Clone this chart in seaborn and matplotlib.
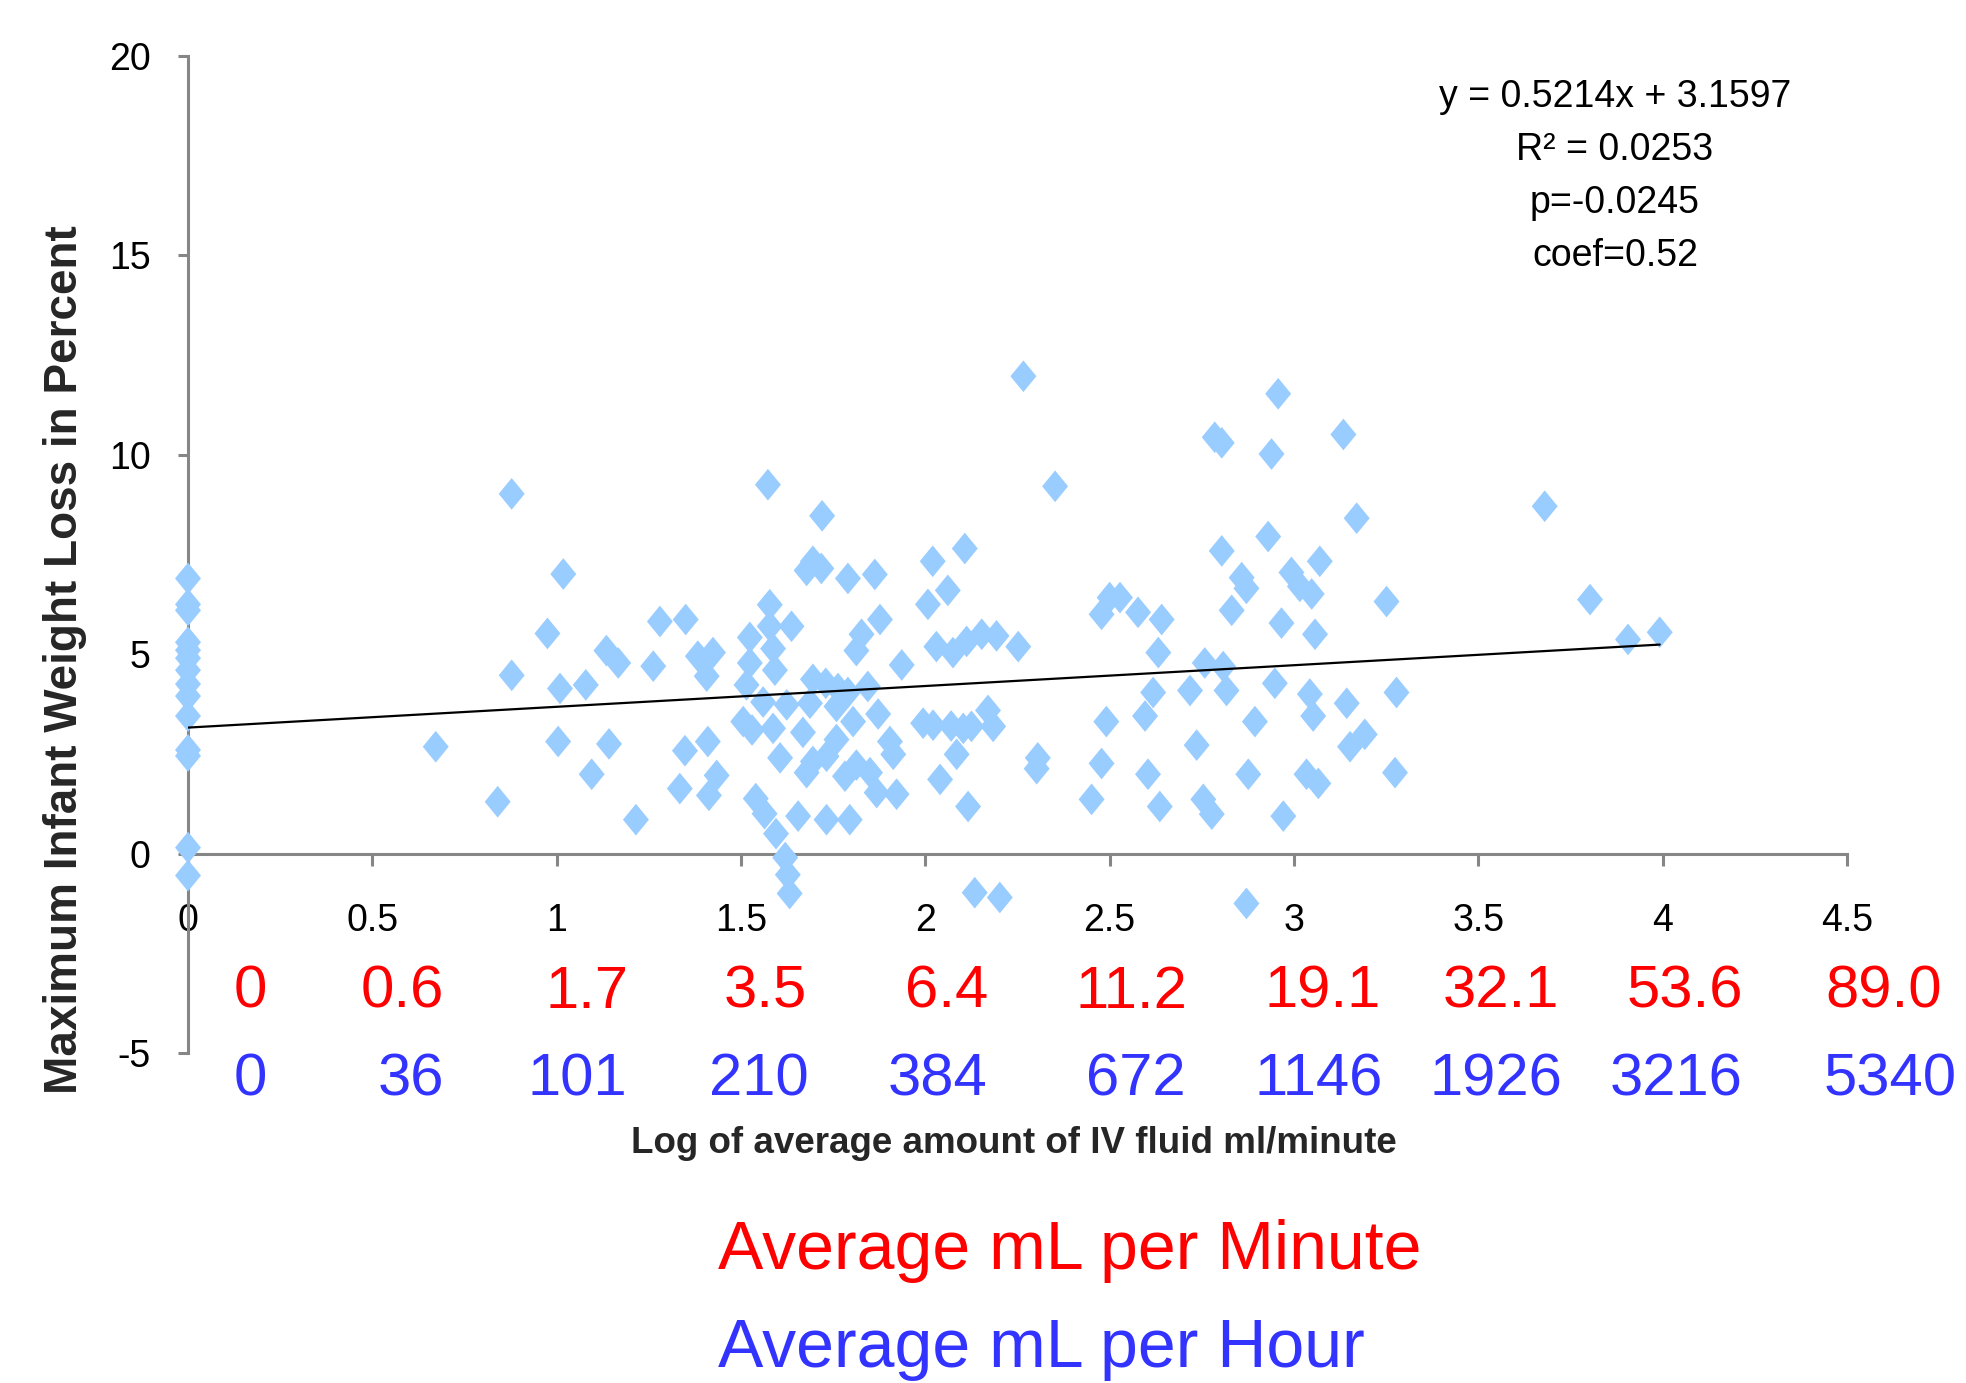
import matplotlib
matplotlib.use("Agg")
import matplotlib.pyplot as plt
import seaborn as sns
import numpy as np
import pandas as pd

# ---------------- data ----------------
log_rate = [
    0, 0, 0, 0, 0, 0, 0, 0, 0, 0, 0, 0, 0, 0,
    0.672, 0.84, 0.878, 0.878, 0.975, 1.018, 1.009, 1.004, 1.079, 1.095,
    1.135, 1.142, 1.167, 1.215, 1.262, 1.28, 1.334, 1.348, 1.35, 1.383,
    1.407, 1.41, 1.413, 1.424, 1.434, 1.506, 1.515, 1.524, 1.524, 1.53,
    1.54, 1.56, 1.573, 1.578, 1.578, 1.564, 1.587, 1.587, 1.595, 1.592,
    1.606, 1.624, 1.62, 1.632, 1.627, 1.637, 1.655, 1.668, 1.678, 1.678,
    1.687, 1.695, 1.695, 1.695, 1.718, 1.72, 1.73, 1.732, 1.732, 1.759,
    1.759, 1.763, 1.782, 1.79, 1.79, 1.795, 1.804, 1.813, 1.813, 1.827,
    1.844, 1.85, 1.863, 1.868, 1.872, 1.877, 1.904, 1.913, 1.922, 1.936,
    1.994, 2.007, 2.02, 2.021, 2.03, 2.04, 2.061, 2.07, 2.075, 2.085,
    2.103, 2.107, 2.112, 2.116, 2.125, 2.134, 2.153, 2.17, 2.184, 2.193,
    2.202, 2.252, 2.266, 2.302, 2.305, 2.352, 2.451, 2.478, 2.478, 2.491,
    2.5, 2.528, 2.577, 2.596, 2.604, 2.618, 2.632, 2.636, 2.641, 2.718,
    2.736, 2.754, 2.758, 2.777, 2.785, 2.804, 2.804, 2.808, 2.817, 2.831,
    2.858, 2.871, 2.871, 2.876, 2.894, 2.93, 2.939, 2.948, 2.957, 2.966,
    2.971, 2.993, 3.016, 3.034, 3.043, 3.048, 3.052, 3.057, 3.066, 3.07,
    3.134, 3.143, 3.152, 3.17, 3.192, 3.251, 3.274, 3.278,
    3.68, 3.803, 3.906, 3.992,
]
weight_loss_pct = [
    6.9, 6.25, 6.1, 5.3, 5.1, 4.9, 4.6, 4.25, 3.95, 3.45, 2.6, 2.45, 0.15, -0.55,
    2.68, 1.3, 9.02, 4.47, 5.52, 7.01, 4.14, 2.81, 4.23, 1.99,
    5.09, 2.75, 4.78, 0.85, 4.70, 5.82, 1.63, 2.58, 5.87, 4.95,
    4.45, 2.81, 1.46, 5.04, 1.96, 3.31, 4.23, 5.42, 4.78, 3.1,
    1.38, 3.8, 9.25, 6.24, 5.7, 1.0, 5.14, 3.14, 0.5, 4.6,
    2.4, 3.73, -0.1, -1.0, -0.53, 5.7, 0.94, 3.04, 7.1, 2.03,
    3.77, 7.33, 4.37, 2.31, 7.15, 8.47, 4.27, 2.44, 0.85, 3.69,
    2.86, 4.14, 1.94, 6.9, 4.04, 0.85, 3.31, 5.09, 2.22, 5.5,
    4.19, 2.03, 7.0, 1.53, 3.5, 5.87, 2.81, 2.49, 1.49, 4.73,
    3.27, 6.25, 7.33, 3.22, 5.19, 1.86, 6.6, 3.2, 5.04, 2.49,
    3.14, 7.65, 5.32, 1.18, 3.19, -0.98, 5.5, 3.59, 3.19, 5.46,
    -1.1, 5.19, 11.97, 2.13, 2.4, 9.21, 1.36, 6.0, 2.26, 3.31,
    6.42, 6.42, 6.05, 3.45, 1.99, 4.04, 5.04, 1.18, 5.87, 4.09,
    2.72, 1.36, 4.78, 0.99, 10.44, 10.3, 7.59, 4.69, 4.09, 6.1,
    6.92, 6.65, -1.25, 1.99, 3.31, 7.95, 10.02, 4.27, 11.53, 5.78,
    0.94, 7.05, 6.7, 1.99, 4.0, 6.51, 3.45, 5.5, 1.76, 7.33,
    10.51, 3.77, 2.68, 8.41, 2.99, 6.32, 2.03, 4.04,
    8.71, 6.37, 5.37, 5.55,
]

trend_slope = 0.5214
trend_intercept = 3.1597
equation_lines = ["y = 0.5214x + 3.1597", "R\u00b2 = 0.0253", "p=-0.0245", "coef=0.52"]

x_ticks = [0, 0.5, 1, 1.5, 2, 2.5, 3, 3.5, 4, 4.5]
x_tick_labels = ["0", "0.5", "1", "1.5", "2", "2.5", "3", "3.5", "4", "4.5"]
y_ticks = [-5, 0, 5, 10, 15, 20]
y_tick_labels = ["-5", "0", "5", "10", "15", "20"]

ml_per_minute = ["0", "0.6", "1.7", "3.5", "6.4", "11.2", "19.1", "32.1", "53.6", "89.0"]
ml_per_hour = ["0", "36", "101", "210", "384", "672", "1146", "1926", "3216", "5340"]

x_label = "Log of average amount of IV fluid ml/minute"
y_label = "Maximum Infant Weight Loss in Percent"
legend_minute = "Average mL per Minute"
legend_hour = "Average mL per Hour"

# ---------------- layout (pixels in the 1966x1383 canvas) ----------------
W, H = 1966, 1383
ax_left, ax_right, ax_top, ax_bottom = 188, 1847, 56, 1053
minute_centers = [250, 402, 587, 765, 947, 1131, 1323, 1501, 1685, 1884]
hour_centers = [250, 411, 577, 759, 938, 1136, 1319, 1496, 1676, 1890]

sns.set_theme(style="white")
FONT = ["Liberation Sans Narrow", "Liberation Sans", "DejaVu Sans"]
plt.rcParams["font.family"] = FONT
plt.rcParams["axes.unicode_minus"] = False

fig = plt.figure(figsize=(W / 100, H / 100), dpi=100)
fig.patch.set_facecolor("white")
ax = fig.add_axes([ax_left / W, 1 - ax_bottom / H,
                   (ax_right - ax_left) / W, (ax_bottom - ax_top) / H])

df = pd.DataFrame({"x": log_rate, "y": weight_loss_pct})
diamond = [(0, 1), (0.82, 0), (0, -1), (-0.82, 0), (0, 1)]
sns.scatterplot(data=df, x="x", y="y", ax=ax, marker=diamond, s=520,
                color="#99CCFF", edgecolor="none", linewidth=0, clip_on=False,
                zorder=3)

line_x = np.array([min(log_rate), max(log_rate)])
ax.plot(line_x, trend_slope * line_x + trend_intercept, color="black",
        lw=1.6, zorder=4)

ax.set_xlim(0, 4.5)
ax.set_ylim(-5, 20)
ax.set_xticks(x_ticks)
ax.set_xticklabels(x_tick_labels)
ax.set_yticks(y_ticks)
ax.set_yticklabels(y_tick_labels)
ax.set_xlabel("")
ax.set_ylabel("")

for side in ["top", "right"]:
    ax.spines[side].set_visible(False)
ax.spines["bottom"].set_position(("data", 0))
for side in ["left", "bottom"]:
    ax.spines[side].set_color("#868686")
    ax.spines[side].set_linewidth(2.2)

ax.tick_params(axis="x", direction="out", length=8.6, width=2.2,
               color="#868686", pad=27, labelsize=27, labelcolor="black",
               bottom=True)
ax.tick_params(axis="y", direction="out", length=7, width=2.2,
               color="#868686", pad=20, labelsize=27, labelcolor="black",
               left=True)
ax.grid(False)
ax.set_facecolor("white")

# y axis title (regular width bold)
fig.text(65 / W, 1 - 660 / H, y_label, rotation=90, ha="center", va="center",
         fontsize=33, fontweight="bold",
         family=["Liberation Sans", "DejaVu Sans"])
# x axis title
fig.text(1014 / W, 1 - 1153 / H, x_label, ha="center", va="baseline",
         fontsize=26.5, fontweight="bold")

# conversion rows
for cx, s in zip(minute_centers, ml_per_minute):
    fig.text(cx / W, 1 - 1008 / H, s, ha="center", va="baseline",
             fontsize=43, color="#FF0000")
for cx, s in zip(hour_centers, ml_per_hour):
    fig.text(cx / W, 1 - 1096 / H, s, ha="center", va="baseline",
             fontsize=43, color="#3333FF")

fig.text(718 / W, 1 - 1269 / H, legend_minute, ha="left", va="baseline",
         fontsize=49, color="#FF0000")
fig.text(718 / W, 1 - 1367 / H, legend_hour, ha="left", va="baseline",
         fontsize=49, color="#3333FF")

# regression annotation
for i, line in enumerate(equation_lines):
    fig.text(1615 / W, 1 - (107 + 53 * i) / H, line, ha="center",
             va="baseline", fontsize=27, color="black")

fig.savefig("out.png", dpi=100)
